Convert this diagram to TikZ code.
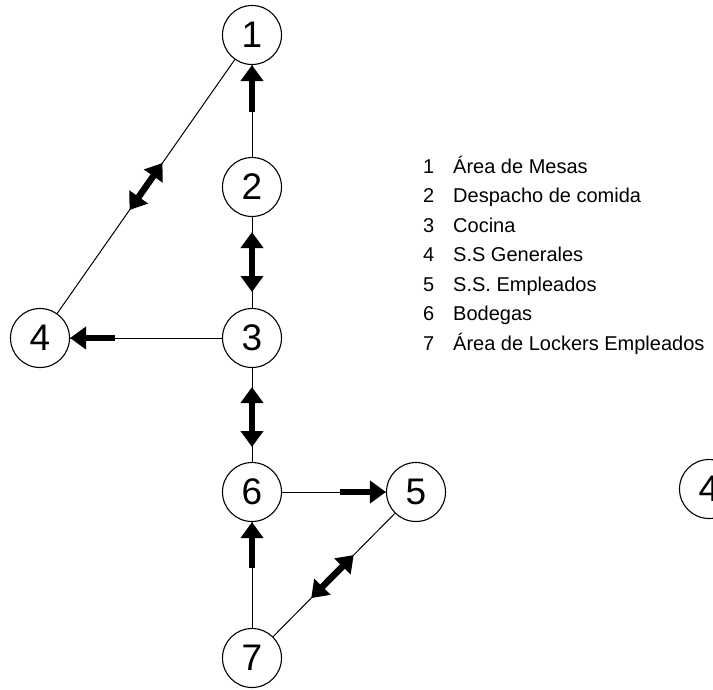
\documentclass[tikz,border=0pt]{standalone}
\usepackage{fontspec}
\setmainfont{Liberation Sans}
\usetikzlibrary{arrows.meta,calc}
\begin{document}
\begin{tikzpicture}[x=1pt,y=-1pt,
  station/.style={circle,draw,line width=1.1pt,minimum size=59pt,inner sep=0pt,font=\fontsize{37}{40}\selectfont},
  link/.style={line width=1pt},
  bigarrow/.style={line width=6.5pt,-{Triangle[length=16pt,width=22pt]}},
  bigdouble/.style={line width=6.5pt,{Triangle[length=16pt,width=22pt]}-{Triangle[length=16pt,width=22pt]}},
  legtext/.style={anchor=base west,inner sep=0pt,font=\fontsize{20}{22}\selectfont}]
\useasboundingbox (0,0) rectangle (713,689);
% nodes
\node[station] (n1) at (252,35) {1};
\node[station] (n2) at (252,187) {2};
\node[station] (n3) at (252,338) {3};
\node[station] (n4) at (40,338) {4};
\node[station] (n6) at (252,492) {6};
\node[station] (n5) at (416,492) {5};
\node[station] (n7) at (252,658) {7};
\node[station] (n4b) at (709,489) {4};
% thin connectors
\draw[link] (n1) -- (n2);
\draw[link] (n2) -- (n3);
\draw[link] (n3) -- (n4);
\draw[link] (n3) -- (n6);
\draw[link] (n6) -- (n5);
\draw[link] (n6) -- (n7);
\draw[link] (n7) -- (n5);
\draw[link] (n4) -- (n1);
% thick arrows
\coordinate (a21) at (252,112);
\coordinate (a34) at (115,338);
\coordinate (a65) at (340,492);
\coordinate (a76) at (252,568);
\draw[bigarrow] (a21) -- (n1);
\draw[bigarrow] (a34) -- (n4);
\draw[bigarrow] (a65) -- (n5);
\draw[bigarrow] (a76) -- (n6);
\coordinate (d23a) at (252,232);
\coordinate (d23b) at (252,292);
\coordinate (d36a) at (252,387);
\coordinate (d36b) at (252,447);
\coordinate (d75a) at ($(n7)!0.361!(n5)$);
\coordinate (d75b) at ($(n7)!0.620!(n5)$);
\coordinate (d41a) at ($(n4)!0.4224!(n1)$);
\coordinate (d41b) at ($(n4)!0.5776!(n1)$);
\draw[bigdouble] (d23a) -- (d23b);
\draw[bigdouble] (d36a) -- (d36b);
\draw[bigdouble] (d75a) -- (d75b);
\draw[bigdouble] (d41a) -- (d41b);
% legend
\node[legtext] (k1) at (423,173) {1};
\node[legtext] (t1) at (453,173) {Área de Mesas};
\node[legtext] (k2) at (423,202.5) {2};
\node[legtext] (t2) at (453,202.5) {Despacho de comida};
\node[legtext] (k3) at (423,232) {3};
\node[legtext] (t3) at (453,232) {Cocina};
\node[legtext] (k4) at (423,261.5) {4};
\node[legtext] (t4) at (453,261.5) {S.S Generales};
\node[legtext] (k5) at (423,291) {5};
\node[legtext] (t5) at (453,291) {S.S. Empleados};
\node[legtext] (k6) at (423,320.5) {6};
\node[legtext] (t6) at (453,320.5) {Bodegas};
\node[legtext] (k7) at (423,350) {7};
\node[legtext] (t7) at (453,350) {Área de Lockers Empleados};
\end{tikzpicture}
\end{document}
